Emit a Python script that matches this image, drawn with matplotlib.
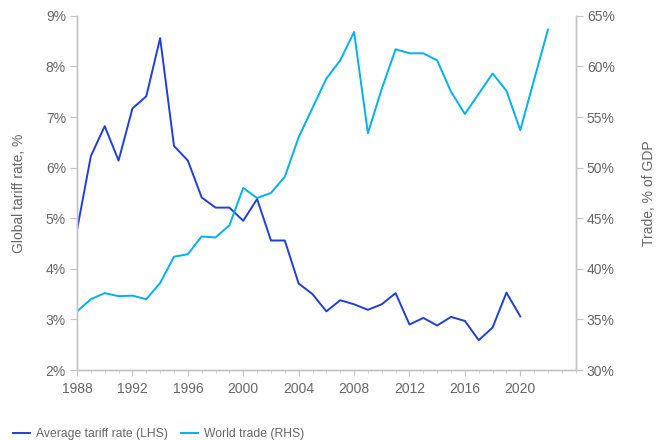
import matplotlib.pyplot as plt
from matplotlib.ticker import FuncFormatter, MultipleLocator

plt.rcParams['font.family'] = ['Liberation Sans', 'DejaVu Sans']

tariff_years = list(range(1988, 2021))
tariff_rate = [4.77, 6.23, 6.82, 6.14, 7.17, 7.41, 8.56, 6.43, 6.14, 5.41,
               5.21, 5.21, 4.95, 5.38, 4.56, 4.56, 3.71, 3.50, 3.16, 3.38,
               3.30, 3.19, 3.30, 3.52, 2.90, 3.03, 2.88, 3.05, 2.97, 2.59,
               2.84, 3.53, 3.06]

trade_years = list(range(1988, 2023))
trade_gdp = [35.8, 37.0, 37.6, 37.3, 37.35, 37.0, 38.6, 41.2, 41.45, 43.2,
             43.1, 44.3, 48.0, 47.0, 47.5, 49.1, 53.0, 55.9, 58.8, 60.6,
             63.4, 53.4, 57.8, 61.7, 61.3, 61.3, 60.6, 57.5, 55.3, 57.3,
             59.3, 57.6, 53.7, 58.7, 63.65]

dark_blue = "#1f3fdc"
light_blue = "#00b0f0"
grey_text = "#666666"
spine_col = "#c4c4c4"

fig = plt.figure(figsize=(6.64, 4.4), dpi=100)
ax = fig.add_axes([0.116, 0.159, 0.751, 0.805])
ax2 = ax.twinx()

l1, = ax.plot(tariff_years, tariff_rate, color=dark_blue, lw=1.4,
              label="Average tariff rate (LHS)")
l2, = ax2.plot(trade_years, trade_gdp, color=light_blue, lw=1.4,
               label="World trade (RHS)")

ax.set_xlim(1988, 2024)
ax.set_ylim(2, 9)
ax2.set_ylim(30, 65)
ax.xaxis.set_minor_locator(MultipleLocator(1))
ax.set_xticks(range(1988, 2021, 4))
ax.yaxis.set_major_locator(MultipleLocator(1))
ax2.yaxis.set_major_locator(MultipleLocator(5))
ax.yaxis.set_major_formatter(FuncFormatter(lambda v, p: f"{v:.0f}%"))
ax2.yaxis.set_major_formatter(FuncFormatter(lambda v, p: f"{v:.0f}%"))

for a in (ax, ax2):
    a.spines["top"].set_visible(False)
    for s in ("left", "right", "bottom"):
        a.spines[s].set_color(spine_col)
        a.spines[s].set_linewidth(1.0)
    a.tick_params(which="major", length=5, color=spine_col, labelsize=10,
                  labelcolor=grey_text, pad=3)
    a.tick_params(which="minor", length=2.5, color=spine_col)
ax.tick_params(axis="x", which="major", length=4.5, pad=4)

ax.set_ylabel("Global tariff rate, %", color=grey_text, fontsize=10, labelpad=14)
ax2.set_ylabel("Trade, % of GDP", color=grey_text, fontsize=10, labelpad=20)

fig.legend(handles=[l1, l2], loc="lower left", bbox_to_anchor=(0.003, -0.025),
           ncol=2, frameon=False, fontsize=8.7, labelcolor=grey_text,
           handlelength=1.4, handletextpad=0.5, columnspacing=1.1)

fig.savefig("out.png", dpi=100)
